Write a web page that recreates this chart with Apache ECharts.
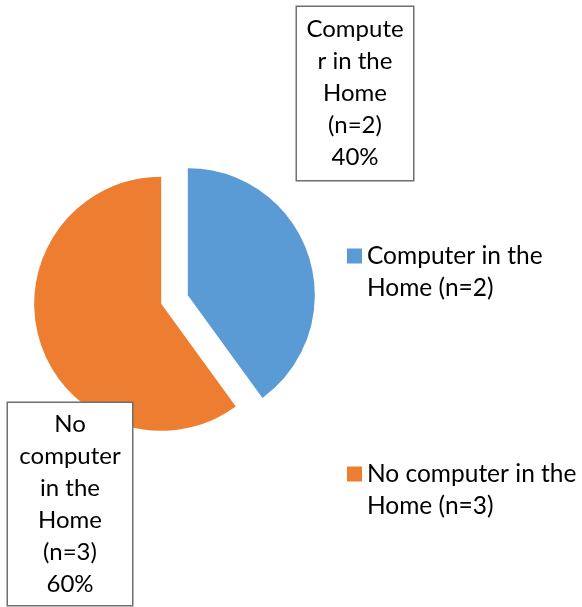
<!DOCTYPE html>
<html>
<head>
<meta charset="utf-8">
<script src="https://cdn.jsdelivr.net/npm/echarts@6/dist/echarts.min.js"></script>
<style>
  html, body { margin: 0; padding: 0; background: #fff; }
  #chart { width: 582px; height: 607px; }
</style>
</head>
<body>
<div id="chart"></div>
<script>
// categories and counts
const categories = ['Computer in the Home (n=2)', 'No computer in the Home (n=3)']
const counts = [2, 3]
// wrapped text as shown in the data label boxes (percent appended at render)
const labelTexts = ['Compute\nr in the\nHome\n(n=2)', 'No\ncomputer\nin the\nHome\n(n=3)']
// wrapped legend text
const legendTexts = ['Computer in the\nHome (n=2)', 'No computer in the\nHome (n=3)']
const colors = ['#5B9BD5', '#ED7D31']

const FONT = 'Lato'
const CENTRE = [174.5, 299.5]
const EXPLODE = 14

const chart = echarts.init(document.getElementById('chart'))

// label boxes: centre, inner width, padding
const boxCentres = [[355, 93.5], [70, 504]]
const boxWidths = [100, 108]
const boxPads = [[6, 8, 7, 8], [5, 8, 5, 8]]

// each slice is drawn by its own pie (the other slice left transparent)
// so that both can be pulled out from the centre along their mid angle
const total = counts.reduce((a, b) => a + b, 0)
function sliceSeries(k) {
  let before = 0
  for (let i = 0; i < k; i++) before += counts[i]
  const mid = (before + counts[k] / 2) / total * 2 * Math.PI // clockwise from 12 o'clock
  const cx = CENTRE[0] + Math.sin(mid) * EXPLODE
  const cy = CENTRE[1] - Math.cos(mid) * EXPLODE
  return {
    type: 'pie',
    center: [cx, cy],
    radius: 127,
    startAngle: 90,
    clockwise: true,
    silent: true,
    emphasis: { disabled: true },
    labelLine: { show: false },
    data: categories.map((name, i) => i === k
      ? {
          name,
          value: counts[i],
          itemStyle: { color: colors[i] },
          label: { show: true, width: boxWidths[i], padding: boxPads[i] },
        }
      : {
          name,
          value: counts[i],
          itemStyle: { color: 'rgba(0,0,0,0)' },
          label: { show: false },
        }),
    label: {
      position: 'outside',
      formatter: (p) => labelTexts[p.dataIndex] + '\n' + Math.round(p.percent) + '%',
      fontFamily: FONT,
      fontSize: 24,
      lineHeight: 32,
      color: '#000',
      align: 'center',
      backgroundColor: '#fff',
      borderColor: '#6f6f6f',
      borderWidth: 1.5,
    },
    labelLayout: (params) => ({
      x: boxCentres[params.dataIndex][0],
      y: boxCentres[params.dataIndex][1],
      align: 'center',
      verticalAlign: 'middle',
    }),
  }
}

// legend marker: 15px square sitting beside the first of two text lines
const legendIcon = 'path://M0,0L0.01,0M0,8.5H15V23.5H0ZM0,64L0.01,64'

chart.setOption({
  animation: false,
  legend: {
    data: categories.map((name, i) => ({ name, itemStyle: { color: colors[i] } })),
    left: 347,
    top: 240,
    padding: 0,
    orient: 'vertical',
    icon: legendIcon,
    itemWidth: 15,
    itemHeight: 64,
    itemGap: 154,
    selectedMode: false,
    formatter: (name) => legendTexts[categories.indexOf(name)],
    textStyle: {
      fontFamily: FONT,
      fontSize: 24.5,
      lineHeight: 32,
      color: '#000',
    },
  },
  series: [sliceSeries(0), sliceSeries(1)],
})
</script>
</body>
</html>
